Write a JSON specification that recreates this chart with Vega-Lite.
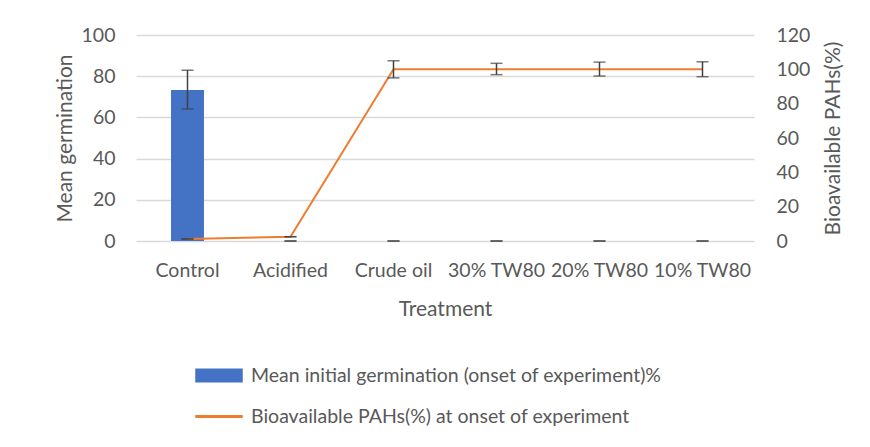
{
  "$schema": "https://vega.github.io/schema/vega-lite/v6.json",
  "width": 618,
  "height": 206,
  "autosize": "none",
  "padding": {"left": 136, "top": 35, "right": 116, "bottom": 206},
  "background": "white",
  "config": {
    "font": "Lato",
    "view": {"stroke": null},
    "axis": {
      "labelColor": "#595959",
      "titleColor": "#595959",
      "labelFont": "Lato",
      "titleFont": "Lato",
      "labelFontSize": 19.5,
      "titleFontSize": 21,
      "titleFontWeight": "normal",
      "ticks": false,
      "domain": false,
      "labelOverlap": false,
      "gridColor": "#d9d9d9",
      "gridWidth": 1.3
    }
  },
  "data": {
    "values": [
      {"treatment": "Control", "germ": 73.3, "germLo": 64.1, "germHi": 82.9, "pah": 1.2, "pahLo": 1.2, "pahHi": 1.2},
      {"treatment": "Acidified", "germ": 0, "germLo": 0, "germHi": 0, "pah": 2.5, "pahLo": 2.5, "pahHi": 2.5},
      {"treatment": "Crude oil", "germ": 0, "germLo": 0, "germHi": 0, "pah": 100, "pahLo": 95, "pahHi": 105},
      {"treatment": "30% TW80", "germ": 0, "germLo": 0, "germHi": 0, "pah": 100, "pahLo": 96.9, "pahHi": 103.5},
      {"treatment": "20% TW80", "germ": 0, "germLo": 0, "germHi": 0, "pah": 100, "pahLo": 96.1, "pahHi": 104.2},
      {"treatment": "10% TW80", "germ": 0, "germLo": 0, "germHi": 0, "pah": 100, "pahLo": 95.7, "pahHi": 104.4}
    ]
  },
  "encoding": {
    "x": {
      "field": "treatment",
      "type": "nominal",
      "sort": null,
      "scale": {"paddingInner": 0, "paddingOuter": 0},
      "axis": {"labelAngle": 0, "labelPadding": 20, "title": "Treatment", "titlePadding": 19}
    }
  },
  "layer": [
    {
      "layer": [
        {
          "mark": {"type": "bar", "width": {"band": 0.32}},
          "encoding": {
            "y": {
              "field": "germ",
              "type": "quantitative",
              "scale": {"domain": [0, 100]},
              "axis": {"orient": "left", "title": "Mean germination", "values": [0, 20, 40, 60, 80, 100], "labelPadding": 21, "titlePadding": 6, "grid": true, "labelOverlap": false}
            },
            "color": {
              "datum": "Mean initial germination (onset of experiment)%",
              "type": "nominal",
              "scale": {
                "domain": ["Mean initial germination (onset of experiment)%", "Bioavailable PAHs(%) at onset of experiment"],
                "range": ["#4472C4", "#ED7D31"]
              },
              "legend": {
                "title": null,
                "orient": "none",
                "legendX": 59,
                "legendY": 320,
                "direction": "vertical",
                "labelFont": "Lato",
                "labelFontSize": 19.5,
                "labelColor": "#595959",
                "symbolType": "M-1,-0.27H1V0.27H-1Z",
                "symbolSize": 2116,
                "labelOffset": 8,
                "rowPadding": 0,
                "clipHeight": 41,
                "labelLimit": 600,
                "encode": {
                  "symbols": {
                    "update": {
                      "shape": {"signal": "datum.label === 'Bioavailable PAHs(%) at onset of experiment' ? 'M-1,-0.03H1V0.03H-1Z' : 'M-1,-0.27H1V0.27H-1Z'"},
                      "fill": {"signal": "scale('color', datum.value)"},
                      "stroke": {"value": "transparent"},
                      "opacity": {"value": 1}
                    }
                  }
                }
              }
            }
          }
        },
        {
          "mark": {"type": "rule", "color": "#404040", "strokeWidth": 1.5},
          "encoding": {
            "y": {"field": "germLo", "type": "quantitative", "title": "Mean germination"},
            "y2": {"field": "germHi"}
          }
        },
        {
          "mark": {"type": "tick", "color": "#404040", "thickness": 1.5, "size": 12},
          "encoding": {"y": {"field": "germLo", "type": "quantitative", "title": "Mean germination"}}
        },
        {
          "mark": {"type": "tick", "color": "#404040", "thickness": 1.5, "size": 12},
          "encoding": {"y": {"field": "germHi", "type": "quantitative", "title": "Mean germination"}}
        }
      ]
    },
    {
      "layer": [
        {
          "mark": {"type": "line", "strokeWidth": 2},
          "encoding": {
            "y": {
              "field": "pah",
              "type": "quantitative",
              "scale": {"domain": [0, 120]},
              "axis": {"orient": "right", "title": "Bioavailable PAHs(%)", "values": [0, 20, 40, 60, 80, 100, 120], "labelPadding": 22, "titlePadding": 34, "grid": false, "titleAngle": 270, "labelOverlap": false, "labelSeparation": 0, "labelBound": false}
            },
            "color": {"datum": "Bioavailable PAHs(%) at onset of experiment", "type": "nominal"}
          }
        },
        {
          "mark": {"type": "rule", "color": "#404040", "strokeWidth": 1.5},
          "encoding": {
            "y": {"field": "pahLo", "type": "quantitative", "axis": {"orient": "right", "title": "Bioavailable PAHs(%)", "labelOverlap": false, "values": [0, 20, 40, 60, 80, 100, 120]}},
            "y2": {"field": "pahHi"}
          }
        },
        {
          "mark": {"type": "tick", "color": "#404040", "thickness": 1.5, "size": 12},
          "encoding": {"y": {"field": "pahLo", "type": "quantitative", "axis": {"orient": "right", "title": "Bioavailable PAHs(%)", "labelOverlap": false, "values": [0, 20, 40, 60, 80, 100, 120]}}}
        },
        {
          "mark": {"type": "tick", "color": "#404040", "thickness": 1.5, "size": 12},
          "encoding": {"y": {"field": "pahHi", "type": "quantitative", "axis": {"orient": "right", "title": "Bioavailable PAHs(%)", "labelOverlap": false, "values": [0, 20, 40, 60, 80, 100, 120]}}}
        }
      ]
    }
  ],
  "resolve": {"scale": {"y": "independent"}}
}
